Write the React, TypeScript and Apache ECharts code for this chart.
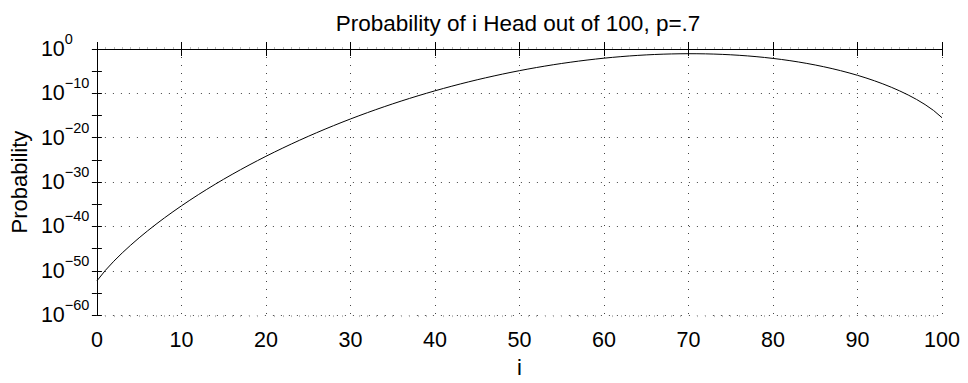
import React, { useEffect, useRef } from "react";
import * as echarts from "echarts";

const titleText = "Probability of i Head out of 100, p=.7";
const xAxisLabel = "i";
const yAxisLabel = "Probability";

// number of heads i = 0..100
const heads: number[] = Array.from({ length: 101 }, (_, k) => k);

// log10 of the probability, for i = 0..100
const log10Probability: number[] = [
  -52.288, -49.920, -47.857, -45.975, -44.223, -42.571, -41.004, -39.508, -38.074, -36.697,
  -35.370, -34.089, -32.851, -31.652, -30.491, -29.365, -28.271, -27.209, -26.178, -25.175,
  -24.199, -23.250, -22.327, -21.429, -20.555, -19.704, -18.876, -18.070, -17.286, -16.523,
  -15.781, -15.059, -14.357, -13.675, -13.013, -12.369, -11.745, -11.139, -10.551, -9.982,
  -9.431, -8.897, -8.382, -7.884, -7.403, -6.940, -6.495, -6.067, -5.656, -5.262,
  -4.885, -4.526, -4.184, -3.859, -3.551, -3.261, -2.988, -2.732, -2.494, -2.274,
  -2.071, -1.886, -1.720, -1.571, -1.441, -1.330, -1.237, -1.164, -1.110, -1.076,
  -1.062, -1.068, -1.095, -1.143, -1.213, -1.305, -1.420, -1.558, -1.720, -1.908,
  -2.121, -2.360, -2.627, -2.923, -3.249, -3.606, -3.997, -4.422, -4.885, -5.387,
  -5.932, -6.523, -7.164, -7.862, -8.622, -9.453, -10.369, -11.385, -12.532, -13.858,
  -15.490,
];

const xTicks = { min: 0, max: 100, interval: 10 };
const yExponentTicks = { min: -60, max: 0, interval: 10 };

const FONT = "'Liberation Sans', Arial, Helvetica, sans-serif";

export default function App() {
  const ref = useRef<HTMLDivElement>(null);

  useEffect(() => {
    if (!ref.current) return;
    const chart = echarts.init(ref.current, undefined, { renderer: "svg" });

    const lineBlack = { color: "#000", width: 1 };
    const gridDots = { color: "#444", width: 1, type: [1, 7] as number[] };
    const minorStyle = { color: "#bbb", width: 1 };

    const baseX = {
      type: "value" as const,
      min: xTicks.min,
      max: xTicks.max,
      interval: xTicks.interval,
    };
    const baseY = {
      type: "value" as const,
      min: yExponentTicks.min,
      max: yExponentTicks.max,
      interval: yExponentTicks.interval,
    };

    chart.setOption({
      animation: false,
      backgroundColor: "#fff",
      title: {
        text: titleText,
        left: 513,
        top: 7,
        textAlign: "center",
        textStyle: { fontFamily: FONT, fontSize: 22.5, fontWeight: "normal", color: "#000" },
      },
      grid: { left: 94, right: 26, top: 49, bottom: 54, containLabel: false },
      xAxis: [
        {
          ...baseX,
          position: "bottom",
          name: xAxisLabel,
          nameLocation: "middle",
          nameGap: 35,
          nameTextStyle: { fontFamily: FONT, fontSize: 22, color: "#000" },
          axisLine: { show: true, lineStyle: lineBlack },
          axisTick: { show: true, inside: true, length: 7, lineStyle: lineBlack },
          axisLabel: { show: true, margin: 14, fontFamily: FONT, fontSize: 21.5, color: "#000", showMinLabel: true, showMaxLabel: true },
          splitLine: { show: true, lineStyle: gridDots },
        },
        {
          ...baseX,
          position: "top",
          axisLine: { show: true, lineStyle: lineBlack },
          axisTick: { show: true, inside: true, length: 7, lineStyle: lineBlack },
          axisLabel: { show: false },
          splitLine: { show: false },
        },
        {
          ...baseX,
          position: "bottom",
          axisLine: { show: false },
          axisTick: { show: false, inside: false },
          minorTick: { show: true, splitNumber: 10, length: 2, lineStyle: minorStyle },
          axisLabel: { show: false },
          splitLine: { show: false },
        },
        {
          ...baseX,
          position: "top",
          axisLine: { show: false },
          axisTick: { show: false, inside: false },
          minorTick: { show: true, splitNumber: 10, length: 2, lineStyle: minorStyle },
          axisLabel: { show: false },
          splitLine: { show: false },
        },
      ],
      yAxis: [
        {
          ...baseY,
          position: "left",
          name: yAxisLabel,
          nameLocation: "middle",
          nameGap: 62,
          nameTextStyle: { fontFamily: FONT, fontSize: 22, color: "#000" },
          axisLine: { show: true, lineStyle: lineBlack },
          axisTick: { show: true, inside: true, length: 5, lineStyle: lineBlack },
          minorTick: { show: true, splitNumber: 2, length: 5, lineStyle: lineBlack },
          axisLabel: {
            show: true,
            align: "left",
            margin: 56,
            formatter: (v: number) => `{b|10}{e|${v === 0 ? "0" : "\u2212" + Math.abs(v)}}`,
            rich: {
              b: { fontFamily: FONT, fontSize: 21.5, color: "#000", lineHeight: 22 },
              e: { fontFamily: FONT, fontSize: 14.5, color: "#000", lineHeight: 14, padding: [0, 0, 20, 0] },
            },
          },
          splitLine: { show: true, lineStyle: gridDots },
        },
        {
          ...baseY,
          position: "right",
          axisLine: { show: true, lineStyle: lineBlack },
          axisTick: { show: true, inside: true, length: 5, lineStyle: lineBlack },
          minorTick: { show: true, splitNumber: 2, length: 5, lineStyle: lineBlack },
          axisLabel: { show: false },
          splitLine: { show: false },
        },
      ],
      series: [
        {
          type: "line",
          xAxisIndex: 0,
          yAxisIndex: 0,
          data: heads.map((h, k) => [h, log10Probability[k]]),
          showSymbol: false,
          symbol: "none",
          lineStyle: { color: "#000", width: 1 },
          silent: true,
        },
      ],
    });

    return () => chart.dispose();
  }, []);

  return (
    <div
      ref={ref}
      style={{ position: "absolute", left: 0, top: 0, width: 968, height: 383 }}
    />
  );
}
